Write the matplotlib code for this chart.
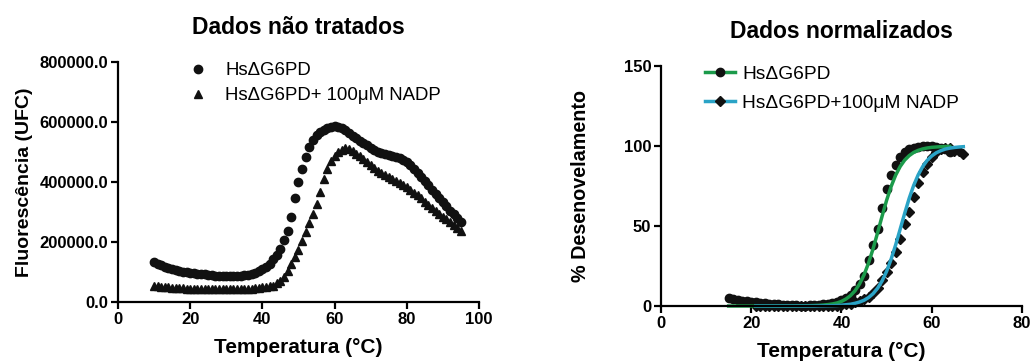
import numpy as np
import matplotlib
matplotlib.use('Agg')
import matplotlib.pyplot as plt
from matplotlib.ticker import FormatStrFormatter

plt.rcParams['font.family'] = ['Liberation Sans', 'DejaVu Sans']

# raw data (left panel), fluorescence in UFC, read every 1 degC from 10 to 95
temp_raw = np.arange(10, 96)
raw_apo = np.array([
    133, 128, 122, 117, 113, 109, 106, 103, 101, 99,      # 10-19
    97, 96, 95, 94, 92, 90, 89, 88, 87, 86,               # 20-29
    86, 86, 86, 87, 88, 89, 91, 94, 98, 103,              # 30-39
    110, 118, 128, 142, 158, 178, 207, 238, 285, 348,     # 40-49
    400, 442, 483, 517, 540, 556, 566, 574, 580, 585,     # 50-59
    587, 585, 580, 572, 563, 555, 547, 538, 530, 522,     # 60-69
    514, 507, 501, 496, 492, 490, 488, 485, 481, 475,     # 70-79
    467, 457, 445, 431, 417, 403, 389, 375, 361, 347,     # 80-89
    333, 319, 305, 292, 280, 268,                         # 90-95
]) * 1000.0
raw_nadp = np.array([
    55, 53, 51, 50, 49, 48, 47, 46, 46, 45,
    45, 44, 44, 44, 43, 43, 43, 43, 43, 43,
    43, 43, 43, 43, 43, 44, 44, 45, 46, 47,
    49, 51, 53, 55, 62, 70, 82, 104, 127, 150,
    175, 205, 235, 263, 294, 328, 368, 410, 442, 470,
    488, 500, 508, 512, 510, 503, 495, 486, 476, 466,
    456, 446, 437, 429, 422, 416, 410, 404, 398, 391,
    382, 374, 365, 356, 346, 335, 324, 313, 302, 292,
    285, 276, 266, 256, 247, 238,
]) * 1000.0

# normalized data (right panel), % unfolding
temp_apo = np.arange(15, 65)
norm_apo = [
    5, 4.4, 3.9, 3.4, 3, 2.7, 2.4, 2.1, 1.8, 1.5,        # 15-24
    1.3, 1.1, 0.9, 0.7, 0.5, 0.4, 0.3, 0.3, 0.4, 0.5,    # 25-34
    0.7, 1, 1.4, 2, 2.8, 3.8, 5, 7, 10, 14,              # 35-44
    19, 29, 38, 48, 61, 73, 82, 88, 93, 96,              # 45-54
    98, 99, 99.5, 100, 100, 100, 99.5, 99, 98, 96,       # 55-64
]
temp_nadp = np.arange(21, 68)
norm_nadp = [
    0, 0, 0, 0, 0, 0, 0, 0, 0, 0,                        # 21-30
    0, 0, 0, 0, 0, 0, 0, 0.2, 0.3, 0.5,                  # 31-40
    1, 1.5, 2.3, 3.2, 4.3, 5.8, 8, 11, 16, 21,           # 41-50
    27, 34, 42, 51, 59, 68, 77, 84, 89, 93,              # 51-60
    96, 98, 99, 99, 97, 97, 95,                          # 61-67
]

# fitted curves
fit_apo_t = np.arange(15, 65)
fit_apo = [
    0, 0, 0, 0, 0, 0, 0, 0, 0, 0,
    0, 0, 0, 0, 0, 0.05, 0.1, 0.15, 0.2, 0.3,
    0.4, 0.6, 0.9, 1.3, 1.9, 2.9, 4.4, 6.5, 9.5, 13.8,
    19.5, 26.9, 35.8, 45.8, 56.2, 66.1, 74.7, 81.8, 87.2, 91.2,
    94.0, 96.0, 97.3, 98.2, 98.8, 99.2, 99.4, 99.6, 99.7, 99.8,
]
fit_nadp_t = np.arange(21, 68)
fit_nadp = [
    0, 0, 0, 0, 0, 0, 0, 0, 0, 0,
    0, 0, 0, 0, 0.07, 0.1, 0.15, 0.2, 0.3, 0.5,
    0.8, 1.1, 1.7, 2.5, 3.6, 5.3, 7.7, 11.1, 15.7, 21.7,
    29.3, 38.2, 48.0, 57.9, 67.3, 75.4, 82.0, 87.2, 91.1, 93.8,
    95.8, 97.1, 98.1, 98.7, 99.1, 99.4, 99.6,
]

GREEN = '#1b9a4a'
BLUE = '#2aa3c6'

fig = plt.figure(figsize=(10.32, 3.63), dpi=100)
ax1 = fig.add_axes([0.1143, 0.168, 0.3498, 0.661])
ax2 = fig.add_axes([0.6405, 0.157, 0.3498, 0.661])


def style_axis(ax):
    for side in ['top', 'right']:
        ax.spines[side].set_visible(False)
    for side in ['left', 'bottom']:
        ax.spines[side].set_linewidth(1.6)
    ax.tick_params(direction='out', length=5, width=1.6, labelsize=12, pad=2)
    for lab in ax.get_xticklabels() + ax.get_yticklabels():
        lab.set_fontweight('bold')


# left panel ---------------------------------------------------------------
ax1.plot(temp_raw, raw_apo, 'o', color='#111111', ms=6, label='HsΔG6PD')
ax1.plot(temp_raw, raw_nadp, '^', color='#111111', ms=6,
         label='HsΔG6PD+ 100μM NADP')
ax1.set_xlim(0, 100)
ax1.set_ylim(0, 800000)
ax1.set_xticks([0, 20, 40, 60, 80, 100])
ax1.set_yticks([0, 200000, 400000, 600000, 800000])
ax1.yaxis.set_major_formatter(FormatStrFormatter('%.1f'))
style_axis(ax1)
ax1.set_xlabel('Temperatura (°C)', fontsize=15, fontweight='bold', labelpad=8)
ax1.set_ylabel('Fluorescência (UFC)', fontsize=14, fontweight='bold', labelpad=5)
ax1.set_title('Dados não tratados', fontsize=16.5, fontweight='bold', pad=20)
ax1.legend(loc='upper left', bbox_to_anchor=(0.15, 1.03), frameon=False,
           fontsize=13.4, handletextpad=0.45, labelspacing=0.42,
           borderaxespad=0)

# right panel --------------------------------------------------------------
ax2.plot(temp_apo, norm_apo, 'o', color='#111111', ms=6, clip_on=False)
ax2.plot(temp_nadp, norm_nadp, 'D', color='#111111', ms=5.5, clip_on=False)
ax2.plot(fit_apo_t, fit_apo, '-', color=GREEN, lw=2.5, clip_on=False)
ax2.plot(fit_nadp_t, fit_nadp, '-', color=BLUE, lw=2.5, clip_on=False)
# legend proxies (line + marker)
ax2.plot([], [], '-o', color=GREEN, mfc='#111111', mec='#111111', lw=2.5,
         ms=6, label='HsΔG6PD')
ax2.plot([], [], '-D', color=BLUE, mfc='#111111', mec='#111111', lw=2.5,
         ms=5.5, label='HsΔG6PD+100μM NADP')
ax2.set_xlim(0, 80)
ax2.set_ylim(0, 150)
ax2.set_xticks([0, 20, 40, 60, 80])
ax2.set_yticks([0, 50, 100, 150])
style_axis(ax2)
ax2.set_xlabel('Temperatura (°C)', fontsize=15, fontweight='bold', labelpad=8)
ax2.set_ylabel('% Desenovelamento', fontsize=14.2, fontweight='bold', labelpad=24)
ax2.set_title('Dados normalizados', fontsize=16.5, fontweight='bold', pad=20)
ax2.legend(loc='upper left', bbox_to_anchor=(0.1, 1.035), frameon=False,
           fontsize=13.8, handlelength=1.6, handletextpad=0.35,
           labelspacing=0.6, borderaxespad=0)

fig.savefig('out.png', dpi=100)
